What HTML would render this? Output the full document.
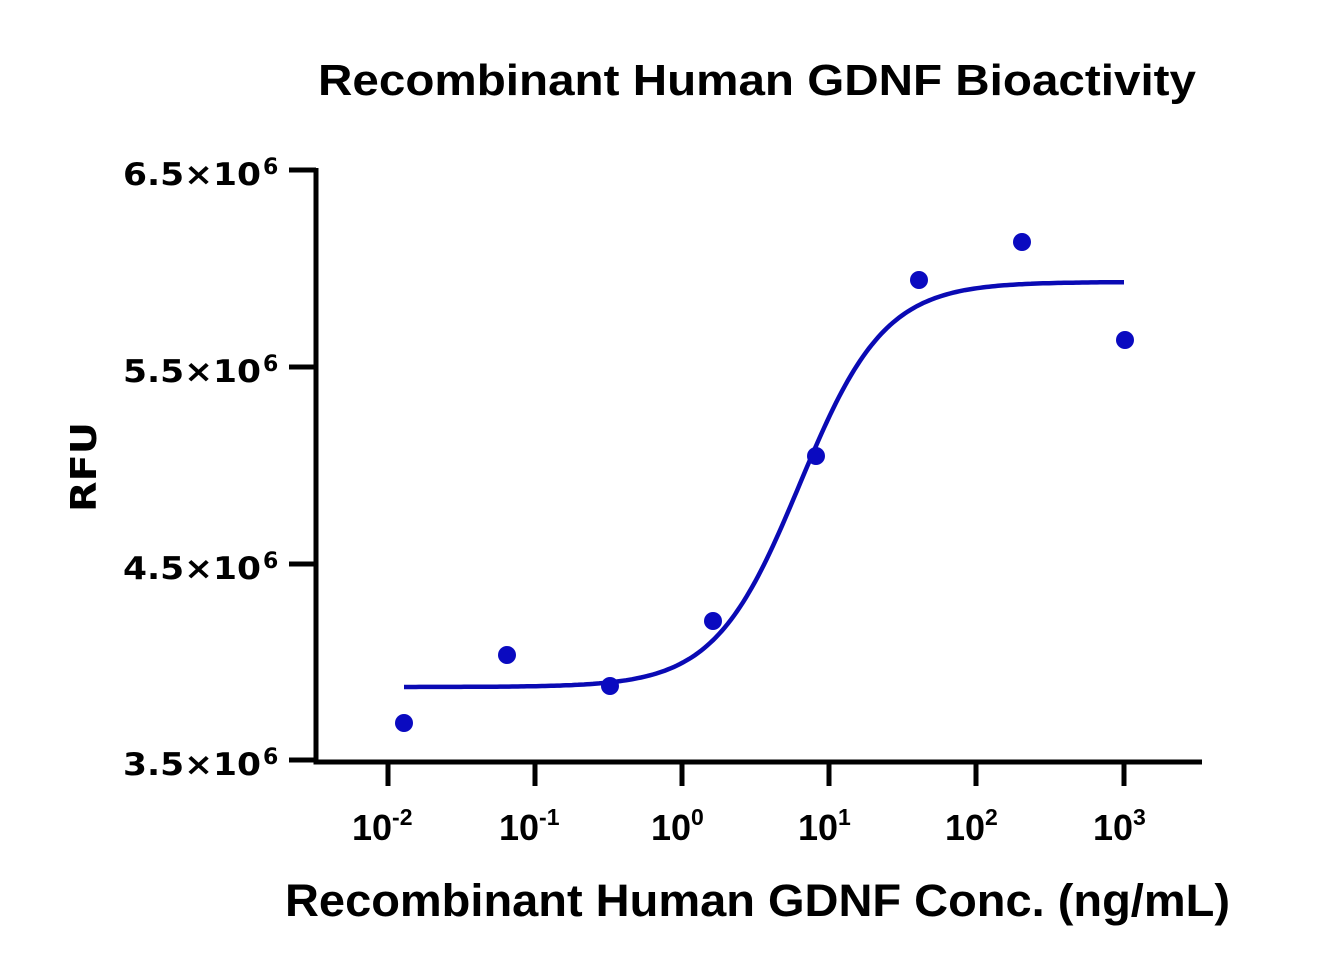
<!DOCTYPE html>
<html><head><meta charset="utf-8"><style>
html,body{margin:0;padding:0;background:#fff;}
svg{display:block;}
.t{font-family:"Liberation Sans",sans-serif;font-weight:bold;fill:#000;}
.d{font-family:"DejaVu Sans","Liberation Sans",sans-serif;font-weight:bold;fill:#000;}
</style></head><body>
<svg width="1331" height="971" viewBox="0 0 1331 971" xmlns="http://www.w3.org/2000/svg">
<text class="t" x="318" y="95" font-size="44" textLength="878" lengthAdjust="spacingAndGlyphs">Recombinant Human GDNF Bioactivity</text>
<g stroke="#000" stroke-width="5" fill="none">
<path d="M316 168 V762 H1202"/>
<path d="M289 170 H316 M289 367 H316 M289 564 H316 M289 760 H316"/>
<path d="M388 760 V786 M535 760 V786 M682 760 V786 M829 760 V786 M976 760 V786 M1124 760 V786"/>
</g>
<g class="d" font-size="31">
<text x="123" y="185" textLength="138" lengthAdjust="spacingAndGlyphs">6.5×10</text><text x="263" y="174" font-size="22">6</text>
<text x="123" y="382" textLength="138" lengthAdjust="spacingAndGlyphs">5.5×10</text><text x="263" y="371" font-size="22">6</text>
<text x="123" y="579" textLength="138" lengthAdjust="spacingAndGlyphs">4.5×10</text><text x="263" y="568" font-size="22">6</text>
<text x="123" y="775" textLength="138" lengthAdjust="spacingAndGlyphs">3.5×10</text><text x="263" y="764" font-size="22">6</text>
</g>
<g class="t" font-size="36">
<text x="352" y="840">10<tspan font-size="23" dy="-15">-2</tspan></text>
<text x="499" y="840">10<tspan font-size="23" dy="-15">-1</tspan></text>
<text x="651" y="840">10<tspan font-size="23" dy="-15">0</tspan></text>
<text x="798" y="840">10<tspan font-size="23" dy="-15">1</tspan></text>
<text x="945" y="840">10<tspan font-size="23" dy="-15">2</tspan></text>
<text x="1093" y="840">10<tspan font-size="23" dy="-15">3</tspan></text>
</g>
<text class="d" font-size="36" transform="translate(96,512) rotate(-90)" textLength="90" lengthAdjust="spacingAndGlyphs">RFU</text>
<text class="t" x="285" y="916" font-size="45" textLength="945" lengthAdjust="spacingAndGlyphs">Recombinant Human GDNF Conc. (ng/mL)</text>
<path id="curve" fill="none" stroke="#0a0ab4" stroke-width="4.5" d=""/>
<g fill="#0a0ac0">
<circle cx="404" cy="723" r="9"/>
<circle cx="507" cy="655" r="9"/>
<circle cx="610" cy="686" r="9"/>
<circle cx="713" cy="621" r="9"/>
<circle cx="816" cy="456" r="9"/>
<circle cx="919" cy="280" r="9"/>
<circle cx="1022" cy="242" r="9"/>
<circle cx="1125" cy="340" r="9"/>
</g>
</svg>
<script>
(function(){
var d="",b=687,t=282,ec=0.8,h=1.5;
for(var x=404;x<=1125;x+=3){
var lg=(x-388)/147-2;
var y=b+(t-b)/(1+Math.pow(10,(ec-lg)*h));
d+=(x==404?"M":"L")+x+" "+y.toFixed(1)+" ";
}
document.getElementById("curve").setAttribute("d",d);
})();
</script>
</body></html>
